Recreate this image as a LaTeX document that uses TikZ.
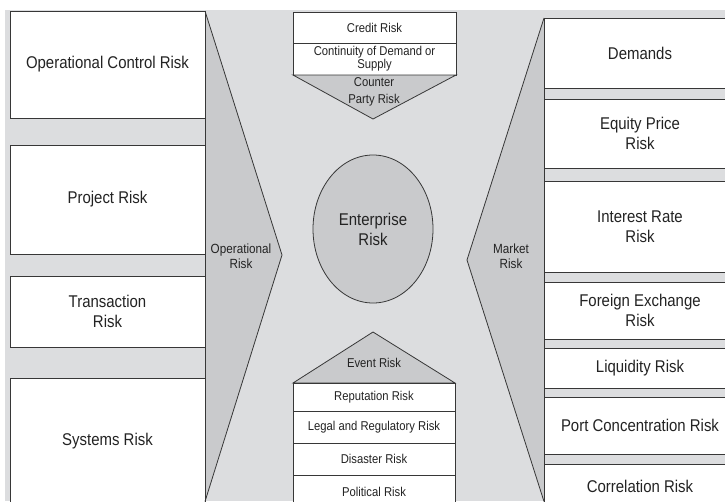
\documentclass[tikz,border=0pt]{standalone}
\usepackage{fontspec}
\setmainfont{Liberation Sans}[FakeStretch=0.88]
\usetikzlibrary{shapes.geometric}
\definecolor{bgc}{RGB}{220,221,223}
\definecolor{shc}{RGB}{201,202,204}
\definecolor{lnc}{RGB}{55,55,55}
\definecolor{txc}{RGB}{35,35,35}
\tikzset{
  box/.style={draw=lnc, line width=0.8pt, fill=white, rectangle, inner sep=1pt,
    align=center, text=txc},
  bigtxt/.style={font=\fontsize{17}{20}\selectfont},
  midtxt/.style={font=\fontsize{13.3}{15}\selectfont},
  smltxt/.style={font=\fontsize{12.8}{9.5}\selectfont},
  shade/.style={draw=lnc, line width=0.8pt, fill=shc},
  lbl/.style={align=center, text=txc, inner sep=0pt},
}
\begin{document}
\begin{tikzpicture}[x=1pt, y=-1pt]
\useasboundingbox (0,0) rectangle (725,501);
\fill[bgc] (5,10) rectangle (725,501);
% left column boxes
\node[box, bigtxt, minimum width=195pt, minimum height=107pt] (ocr) at (107.5,64.5) {Operational Control Risk};
\node[box, bigtxt, minimum width=195pt, minimum height=109pt] (prj) at (107.5,199.5) {Project Risk};
\node[box, bigtxt, minimum width=195pt, minimum height=71pt] (trn) at (107.5,311.5) {Transaction\\Risk};
\node[box, bigtxt, minimum width=195pt, minimum height=127pt] (sys) at (107.5,441.5) {Systems Risk};
% operational shape
\coordinate (opT) at (205,11);
\coordinate (opP) at (282,255);
\coordinate (opB) at (205,501.5);
\fill[shc] (opT) -- (opP) -- (opB) -- cycle;
\draw[lnc, line width=0.8pt] (opT) -- (opP) -- (opB);
\draw[lnc, line width=0.8pt] (opT) -- (opB);
\node[lbl, midtxt] (oplbl) at (241,256) {Operational\\Risk};
% right column boxes
\node[box, bigtxt, minimum width=192pt, minimum height=70pt] (dem) at (640,53) {Demands};
\node[box, bigtxt, minimum width=192pt, minimum height=69pt] (eqp) at (640,133.5) {Equity Price\\Risk};
\node[box, bigtxt, minimum width=192pt, minimum height=91pt] (irr) at (640,226.5) {Interest Rate\\Risk};
\node[box, bigtxt, minimum width=192pt, minimum height=57pt] (fxr) at (640,310.5) {Foreign Exchange\\Risk};
\node[box, bigtxt, minimum width=192pt, minimum height=40pt] (liq) at (640,368) {Liquidity Risk};
\node[box, bigtxt, minimum width=192pt, minimum height=57pt] (pcr) at (640,425.5) {Port Concentration Risk};
\node[box, bigtxt, minimum width=192pt, minimum height=44pt] (cor) at (640,486) {Correlation Risk};
% market shape
\coordinate (mkT) at (544,18);
\coordinate (mkP) at (467,260);
\coordinate (mkB) at (544,501.5);
\fill[shc] (mkT) -- (mkP) -- (mkB) -- cycle;
\draw[lnc, line width=0.8pt] (mkT) -- (mkP) -- (mkB);
\draw[lnc, line width=0.8pt] (mkT) -- (mkB);
\node[lbl, midtxt] (mklbl) at (511,256) {Market\\Risk};
% top centre
\node[box, smltxt, minimum width=163pt, minimum height=31pt] (cre) at (374.5,27.5) {Credit Risk};
\node[box, smltxt, minimum width=163pt, minimum height=32pt] (con) at (374.5,59) {Continuity of Demand or\\Supply};
\coordinate (cpL) at (293,75);
\coordinate (cpR) at (456,75);
\coordinate (cpP) at (373,119);
\draw[shade] (cpL) -- (cpR) -- (cpP) -- cycle;
\node[lbl, font=\fontsize{12.8}{17}\selectfont] (cplbl) at (374,92) {Counter\\Party Risk};
% bottom centre
\coordinate (evP) at (373,332);
\coordinate (evL) at (293,383);
\coordinate (evR) at (455,383);
\draw[shade] (evP) -- (evR) -- (evL) -- cycle;
\node[lbl, smltxt] (evlbl) at (374,363) {Event Risk};
\node[box, smltxt, minimum width=162pt, minimum height=28pt] (rep) at (374,397) {Reputation Risk};
\node[box, smltxt, minimum width=162pt, minimum height=32pt] (leg) at (374,427) {Legal and Regulatory Risk};
\node[box, smltxt, minimum width=162pt, minimum height=32pt] (dis) at (374,459) {Disaster Risk};
\node[box, smltxt, minimum width=162pt, minimum height=34pt] (pol) at (374,492) {Political Risk};
% centre
\node[ellipse, draw=lnc, line width=0.8pt, fill=shc, minimum width=120pt, minimum height=148pt,
  align=center, text=txc, bigtxt, inner sep=0pt] (ent) at (373,229) {Enterprise\\Risk};
\end{tikzpicture}
\end{document}
